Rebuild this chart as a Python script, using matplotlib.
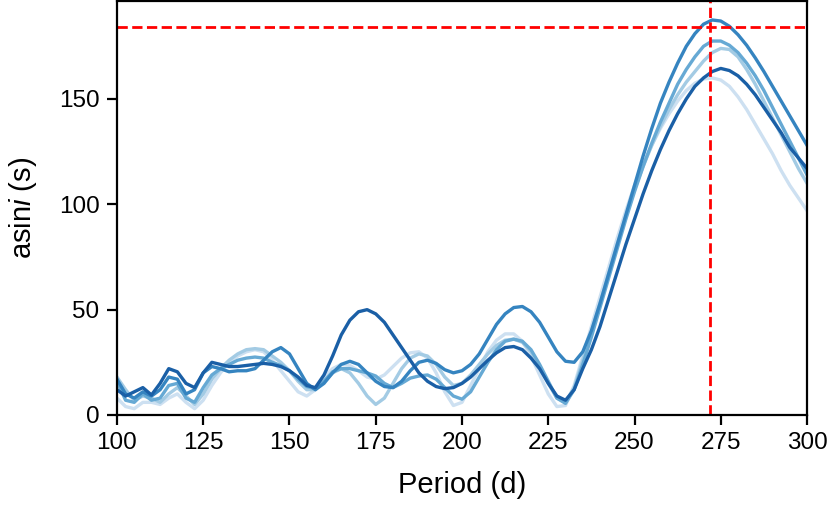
import numpy as np
import matplotlib.pyplot as plt

plt.rcParams['font.family'] = ['Liberation Sans', 'DejaVu Sans']
plt.rcParams['mathtext.fontset'] = 'custom'
plt.rcParams['mathtext.rm'] = 'Liberation Sans'
plt.rcParams['mathtext.it'] = 'Liberation Sans:italic'

# trial periods (d)
period = [100, 102.5, 105, 107.5, 110, 112.5, 115, 117.5, 120, 122.5,
          125, 127.5, 130, 132.5, 135, 137.5, 140, 142.5, 145, 147.5,
          150, 152.5, 155, 157.5, 160, 162.5, 165, 167.5, 170, 172.5,
          175, 177.5, 180, 182.5, 185, 187.5, 190, 192.5, 195, 197.5,
          200, 202.5, 205, 207.5, 210, 212.5, 215, 217.5, 220, 222.5,
          225, 227.5, 230, 232.5, 235, 237.5, 240, 242.5, 245, 247.5,
          250, 252.5, 255, 257.5, 260, 262.5, 265, 267.5, 270, 272.5,
          275, 277.5, 280, 282.5, 285, 287.5, 290, 292.5, 295, 297.5, 300]

# asini (s) for each trial, lightest to darkest
asini_1 = [8, 4, 3, 6, 6, 5, 8, 10, 6, 3,
           7, 14, 20, 25, 28, 30, 31, 30, 26, 21,
           16, 11, 9, 12, 18, 22, 24, 23.5, 21, 18,
           17, 19, 23, 27, 29.5, 30, 27, 20, 11, 4.5,
           6, 14, 22, 30, 35.5, 38.5, 38.5, 35, 28, 19,
           10, 4, 4.5, 14, 28, 42, 56, 70, 84, 97,
           109, 119, 128, 136, 143, 149, 154, 157.5, 159.5, 160,
           159, 156, 151, 145, 138, 131, 124, 116, 109, 103, 97]

asini_2 = [18, 12, 7, 9, 8, 6, 10, 13, 9, 5,
           10, 17, 22, 26, 29, 31, 31.5, 31, 28, 25,
           21, 16, 12, 12, 16, 20, 22, 20, 15, 9,
           5, 8, 15, 22, 27, 29, 28, 24, 18, 14,
           15, 19, 24, 29, 33, 35.5, 36, 34.5, 30, 23,
           15, 8, 6, 13, 26, 39, 53, 67, 81, 94,
           107, 118, 128, 137, 145, 152, 158, 163, 168, 172,
           174, 173.5, 170, 164, 157, 149, 141, 133, 125, 117, 110]

asini_3 = [16, 7, 6, 10, 7, 8, 14, 15, 8, 6,
           13, 19, 22, 24, 26, 27, 27.5, 27, 25, 23.5,
           21, 17, 13.5, 12.5, 16, 20.5, 22, 22, 21, 20,
           18.5, 15, 13, 15, 17.5, 18.5, 19, 17, 13, 9,
           7.5, 11, 18, 25, 31, 35, 36, 35, 31, 24,
           16, 8, 5.5, 12, 24, 37, 51, 65, 79, 93,
           106, 118, 129, 139, 148, 157, 164, 170, 175, 177.5,
           177.5, 175.5, 172, 167, 161, 154, 146, 138, 130, 122, 114]

asini_4 = [17, 10, 8, 11, 9, 12, 18, 17, 10, 12,
           20, 23, 22, 20.5, 21, 21, 22, 26, 30, 32,
           29, 22, 15, 12, 15, 20, 24, 25.5, 24, 20,
           16, 13.5, 13, 16, 21, 25, 26, 24.5, 21.5, 20,
           21, 24, 29, 36, 43, 48, 51, 51.5, 49, 44,
           37, 30, 25.5, 25, 30, 40, 53, 67, 81, 95,
           109, 123, 136, 148, 158, 167, 175, 181, 185.5, 187.5,
           187, 184.5, 180.5, 175.5, 169.5, 163, 156, 149, 142, 135, 128]

asini_5 = [12, 9, 11, 13, 9.5, 15, 22, 20.5, 15, 13,
           20, 25, 24, 23, 23, 23.5, 24, 24.5, 24, 23,
           21, 18, 14, 13, 19, 28, 38, 45, 49, 50,
           48, 44, 38, 32, 26, 20, 16, 13.5, 12.5, 13,
           15, 18, 22, 26, 29.5, 32, 32.5, 31, 27, 22,
           15, 9, 7, 12, 22, 31, 42, 55, 68, 81,
           93, 105, 116, 126, 135, 143, 150, 156, 160, 163,
           164.5, 163.5, 161, 157, 152, 146, 140, 134, 127, 122, 117]

series = [asini_1, asini_2, asini_3, asini_4, asini_5]
colors = ['#cde0f1', '#a3cbe4', '#66a9d4', '#3584c0', '#1a5fa6']

best_period = 272
best_asini = 184.4

fig = plt.figure(figsize=(8.29, 5.08), dpi=100)
ax = fig.add_axes([0.1411, 0.1831, 0.8324, 0.8149])

for s, c in zip(series, colors):
    ax.plot(period, s, color=c, lw=2.4, solid_joinstyle='round')

ax.axhline(best_asini, color='red', ls='--', lw=2.0)
ax.axvline(best_period, color='red', ls='--', lw=2.0)

ax.set_xlim(100, 300)
ax.set_ylim(0, 196.5)
ax.set_xticks([100, 125, 150, 175, 200, 225, 250, 275, 300])
ax.set_yticks([0, 50, 100, 150])

for sp in ax.spines.values():
    sp.set_linewidth(1.6)
ax.tick_params(axis='both', length=7.5, width=1.6, labelsize=17.5, pad=5)

ax.set_xlabel('Period (d)', fontsize=21, labelpad=12)
ax.set_ylabel('asin$i$ (s)', fontsize=21, labelpad=14)

fig.savefig('out.png', dpi=100)
